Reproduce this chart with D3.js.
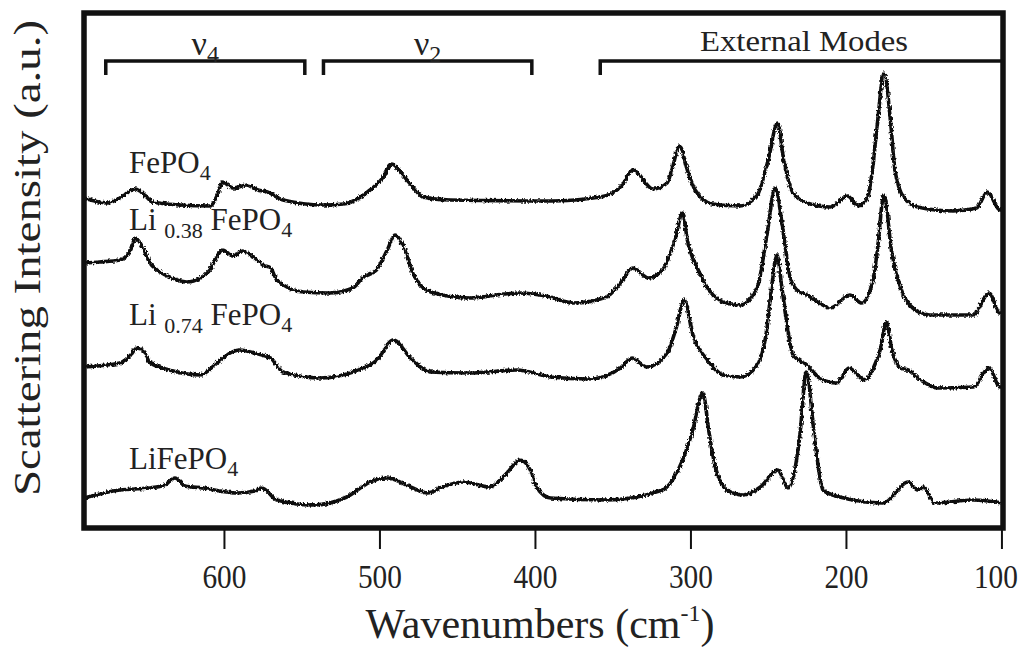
<!DOCTYPE html>
<html>
<head>
<meta charset="utf-8">
<script src="https://cdn.jsdelivr.net/npm/d3@7"></script>
<style>
  body { margin: 0; background: #fff; }
  svg text { font-family: "Liberation Serif", "Times New Roman", serif; fill: #222; }
</style>
</head>
<body>
<div id="chart"></div>
<script>
// Raman spectra, wavenumber (cm-1) vs. stacked intensity (a.u.)
var fePO4 = [
    [690,358],[675,353],[667,358],[657,367],[651,361],[646,354],[628,351],[609,350],
    [604,362],[601,374],[594,368],[585,371],[578,366],[572,364],[562,356],[536,351],
    [523,352],[506,366],[498,378],[492,392],[485,381],[478,368],[472,359],[455,356],
    [390,355],[358,359],[345,369],[337,386],[324,367],[315,373],[312,386],[307,410],
    [302,386],[297,366],[286,352],[268,350],[257,361],[250,396],[244,433],[240,396],
    [234,363],[225,353],[210,349],[199,360],[192,350],[186,359],[183,386],[180,429],
    [175.5,483],[171,429],[168.5,386],[163,359],[154,349],[131,345],[116,348],[109,364],
    [101,346],[99,346]
];
var li038 = [
    [690,293],[680,294],[667,296],[660,306],[657,318],[652,308],[648,294],[643,286],
    [635,279],[624,274],[615,278],[609,286],[604,301],[601,306],[594,300],[588,305],
    [580,298],[575,291],[570,288],[566,276],[549,264],[532,263],[517,268],[511,278],
    [502,286],[495,306],[490,321],[485,311],[478,281],[467,264],[442,258],[420,262],
    [410,263],[390,259],[375.5,253],[354,259],[345,273],[337,288],[327,278],[318,286],
    [310,316],[305,343],[302,316],[295,286],[285.5,261],[279,254],[268,251],[257,269],
    [251,319],[245.5,368],[240.5,326],[236,279],[231.5,266],[225,261],[217,253],[210,248],
    [197.5,261],[190,253],[183,273],[180,303],[175.5,361],[170.5,303],[165,269],[157,248],
    [146,241],[118,241],[108,263],[101,243],[99,243]
];
var li074 = [
    [690,189],[667,193],[660,201],[656,208],[651,204],[648,194],[635,186],[615,181],
    [604.5,193],[596,203],[590,206],[583,204],[575.5,201],[570,198],[562,184],[538,178],
    [517,184],[501.6,196],[491,216],[480,198],[467.5,184],[442,183],[411.5,186],[390,179],
    [365,177],[345,188],[337.6,198],[328,189],[315,203],[309,229],[304,256],[298,219],
    [289,196],[279,181],[268,179],[257,191],[251,226],[248,266],[244.3,301],[241,266],
    [234,201],[225,191],[217,178],[206,173],[198,188],[188,176],[181,193],[178,206],
    [174,234],[170.4,206],[165,188],[160,186],[152,176],[141,168],[118,169],[108,188],
    [101,169],[99,169]
];
var liFePO4 = [
    [690,58],[667,66],[648,68],[638,71],[631.5,78],[625,70],[613.5,68],[591.6,63],
    [580,65],[575.5,68],[566,56],[542.7,51],[521,59],[506,74],[495,78],[480,69],
    [469,63],[458,70],[446,74],[429,69],[418,83],[409.6,96],[403,86],[399,69],
    [390,58],[354,56],[318,66],[307,89],[299,123],[292,163],[288,123],[284,89],
    [276.5,66],[266,61],[255,69],[244,86],[237,68],[231.5,99],[229.5,123],[225.5,184],
    [220.5,123],[218.6,99],[214.8,66],[204,59],[176,53],[160,74],[154,66],[150,69],
    [143,53],[118,56],[99,53]
];
var spectra = [fePO4, li038, li074, liFePO4];

var xTicks = [600, 500, 400, 300, 200, 100];

// region brackets: [from, to] in cm-1
var bracketNames = ['ν', 'ν', 'External Modes'];
var bracketSubs = ['4', '2', ''];
var bracketRanges = [[676, 548], [536, 402], [358, 99]];

var width = 1027, height = 647;
var plot = { left: 84, right: 1003, top: 13, bottom: 528 };

var svg = d3.select('#chart').append('svg')
    .attr('width', width)
    .attr('height', height);

// detector noise look: purely a stroke texture, data stays as read
var defs = svg.append('defs');
var f = defs.append('filter')
    .attr('id', 'grain')
    .attr('filterUnits', 'userSpaceOnUse')
    .attr('x', 0).attr('y', 0).attr('width', width).attr('height', height);
f.append('feTurbulence')
    .attr('type', 'fractalNoise')
    .attr('baseFrequency', '0.6 0.35')
    .attr('numOctaves', 2)
    .attr('seed', 3)
    .attr('result', 'noise');
f.append('feDisplacementMap')
    .attr('in', 'SourceGraphic')
    .attr('in2', 'noise')
    .attr('scale', 4)
    .attr('xChannelSelector', 'R')
    .attr('yChannelSelector', 'G');

var x = d3.scaleLinear().domain([690, 99]).range([plot.left, plot.right]);
var y = d3.scaleLinear().domain([28, 543]).range([plot.bottom, plot.top]);

var line = d3.line()
    .x(function(d) { return x(d[0]); })
    .y(function(d) { return y(d[1]); })
    .curve(d3.curveMonotoneX);

svg.append('g')
    .attr('filter', 'url(#grain)')
    .selectAll('path')
    .data(spectra)
    .enter()
    .append('path')
        .attr('d', line)
        .attr('fill', 'none')
        .attr('stroke', '#111')
        .attr('stroke-width', 3.6)
        .attr('stroke-linejoin', 'round');

// frame
svg.append('rect')
    .attr('x', plot.left)
    .attr('y', plot.top)
    .attr('width', plot.right - plot.left)
    .attr('height', plot.bottom - plot.top)
    .attr('fill', 'none')
    .attr('stroke', '#111')
    .attr('stroke-width', 5.5);

// x axis
var xAxis = d3.axisBottom(x).tickValues(xTicks).tickSize(19).tickPadding(15);
var gx = svg.append('g')
    .attr('transform', 'translate(0,' + (plot.bottom + 2) + ')')
    .call(xAxis);
gx.select('.domain').remove();
gx.selectAll('.tick line').attr('stroke', '#111').attr('stroke-width', 2);
gx.selectAll('.tick text')
    .attr('font-size', 34)
    .attr('textLength', 44)
    .attr('lengthAdjust', 'spacingAndGlyphs')
    .attr('fill', '#222');
// last label sits against the page edge
gx.selectAll('.tick text').filter(function(d) { return d === 100; })
    .attr('x', -6);

svg.append('text')
    .attr('x', 540)
    .attr('y', 638)
    .attr('text-anchor', 'middle')
    .attr('font-size', 42)
    .text('Wavenumbers (cm')
    .append('tspan')
        .attr('font-size', 24)
        .attr('dy', -17)
        .text('-1')
    .select(function() { return this.parentNode; })
    .append('tspan')
        .attr('dy', 17)
        .text(')');

svg.append('text')
    .attr('transform', 'translate(40,258) rotate(-90)')
    .attr('text-anchor', 'middle')
    .attr('font-size', 38)
    .attr('textLength', 476)
    .attr('lengthAdjust', 'spacingAndGlyphs')
    .text('Scattering Intensity (a.u.)');

// region brackets
var brackets = svg.append('g');
bracketRanges.forEach(function(r, i) {
    var x0 = x(r[0]), x1 = x(r[1]);
    brackets.append('path')
        .attr('d', 'M' + x0 + ',75V61H' + x1 + 'V75')
        .attr('fill', 'none')
        .attr('stroke', '#111')
        .attr('stroke-width', 3.5);
    if (bracketSubs[i]) {
        var t = brackets.append('text')
            .attr('x', (x0 + x1) / 2)
            .attr('y', 55)
            .attr('text-anchor', 'middle')
            .attr('font-size', 34)
            .text(bracketNames[i]);
        t.append('tspan').attr('font-size', 24).attr('dy', 7).text(bracketSubs[i]);
    }
});
brackets.append('text')
    .attr('x', 804)
    .attr('y', 51)
    .attr('text-anchor', 'middle')
    .attr('font-size', 30)
    .attr('textLength', 208)
    .attr('lengthAdjust', 'spacingAndGlyphs')
    .text(bracketNames[2]);

// sample labels
var labels = [
    { li: null,   y: 173 },
    { li: '0.38', y: 230 },
    { li: '0.74', y: 325 },
    { li: '',     y: 469 }
];
labels.forEach(function(l) {
    var t = svg.append('text')
        .attr('x', 129)
        .attr('y', l.y)
        .attr('font-size', 31);
    if (l.li === null) {
        t.append('tspan').text('FePO');
    } else if (l.li === '') {
        t.append('tspan').text('LiFePO');
    } else {
        t.append('tspan').text('Li ');
        t.append('tspan').attr('font-size', 22).attr('dy', 8).text(l.li);
        t.append('tspan').attr('dy', -8).text(' FePO');
    }
    t.append('tspan').attr('font-size', 22).attr('dy', 7).text('4');
});
</script>
</body>
</html>
